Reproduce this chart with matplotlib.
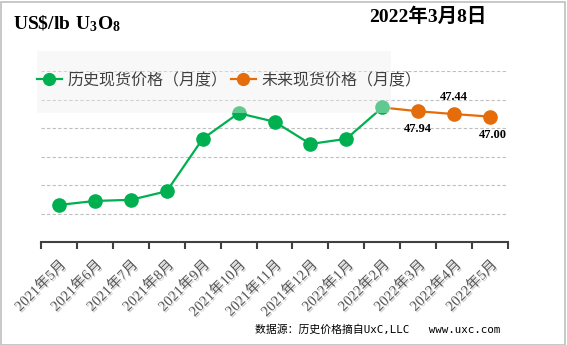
import matplotlib.pyplot as plt
import matplotlib.patheffects as pe
import matplotlib.transforms as mtransforms
from matplotlib.lines import Line2D
from matplotlib.patches import Rectangle

plt.rcParams['mathtext.fontset'] = 'custom'
plt.rcParams['mathtext.bf'] = 'Liberation Serif:bold'
plt.rcParams['mathtext.rm'] = 'Liberation Serif'

months = ['2021年5月', '2021年6月', '2021年7月', '2021年8月', '2021年9月',
          '2021年10月', '2021年11月', '2021年12月', '2022年1月', '2022年2月',
          '2022年3月', '2022年4月', '2022年5月']
hist = [31.5, 32.2, 32.4, 33.9, 43.1, 47.6, 46.1, 42.2, 43.1, 48.6]
future = [48.6, 47.94, 47.44, 47.00]
labels = ['47.94', '47.44', '47.00']

green = '#00B050'
orange = '#E46C0A'
serif_cjk = ['Liberation Serif', 'Noto Sans CJK SC']

W, H = 567, 345
fig = plt.figure(figsize=(W / 100, H / 100), dpi=100)
ax = fig.add_axes([41 / W, 1 - 242 / H, (508 - 41) / W, (242 - 71) / H])

xh = list(range(len(hist)))
xf = list(range(len(hist) - 1, len(months)))
ax.plot(xh, hist, color=green, lw=1.6, marker='o', ms=9.5, mec=green, zorder=3)
ax.plot(xf, future, color=orange, lw=1.6, zorder=2)
ax.plot(xf[1:], future[1:], ls='none', marker='o', ms=9.5, color=orange, zorder=3)

offs = [(0, -12.5), (0, 12.5), (2, -13)]
for x, y, t, o in zip(xf[1:], future[1:], labels, offs):
    ax.annotate(t, (x, y), xytext=o, textcoords='offset points', ha='center',
                va='center', fontsize=9, fontweight='bold', family='Liberation Serif')

ax.set_xlim(-0.5, len(months) - 0.5)
ax.set_ylim(25, 55)
ax.set_yticks([30, 35, 40, 45, 50, 55])
ax.yaxis.grid(True, ls=(0, (3, 2)), color='#bfbfbf', lw=0.8)
ax.set_axisbelow(True)
ax.tick_params(axis='y', length=0, labelleft=False)
for s in ['top', 'right', 'left']:
    ax.spines[s].set_visible(False)
ax.spines['bottom'].set_color('#404040')
ax.spines['bottom'].set_linewidth(1.5)

ax.set_xticks(range(len(months)))
ax.set_xticklabels(months, rotation=45, ha='right', va='center',
                   rotation_mode='anchor', fontsize=10.5, color='#595959',
                   family=serif_cjk)
ax.tick_params(axis='x', which='major', length=0, pad=15)
ax.set_xticks([i - 0.5 for i in range(len(months) + 1)], minor=True)
ax.tick_params(axis='x', which='minor', length=5, width=1.5, color='#404040',
               direction='out')
shift = mtransforms.ScaledTranslation(5 / 100, 0, fig.dpi_scale_trans)
for t in ax.get_xticklabels():
    t.set_transform(t.get_transform() + shift)
    t.set_path_effects([pe.SimplePatchShadow(offset=(1, -1), shadow_rgbFace='#999999',
                                              alpha=0.5), pe.Normal()])

# translucent legend panel over the plot
fig.patches.append(Rectangle((37 / W, 1 - 113 / H), (391 - 37) / W, (113 - 51) / H,
                             transform=fig.transFigure, facecolor='#efefef',
                             alpha=0.4, edgecolor='none', zorder=5))
handles = [Line2D([], [], color=green, lw=1.6, marker='o', ms=8.5),
           Line2D([], [], color=orange, lw=1.6, marker='o', ms=8.5)]
fig.legend(handles, ['历史现货价格（月度）', '未来现货价格（月度）'],
           loc='center left', bbox_to_anchor=(37 / W, 1 - 81 / H), ncol=2,
           frameon=False, borderpad=0, borderaxespad=0, handlelength=1.55,
           handletextpad=0.38, columnspacing=0.2,
           prop={'family': serif_cjk, 'size': 11.5}, labelcolor='#404040')

fig.text(13 / W, 1 - 24 / H, r'$\mathbf{US\$/lb\ U_3O_8}$', fontsize=14,
         ha='left', va='center')
fig.text(487 / W, 1 - 17 / H, '2022年3月8日', fontsize=14, fontweight='bold',
         ha='right', va='center', family=serif_cjk)
fig.text(500 / W, 1 - 330 / H, '数据源：历史价格摘自UxC,LLC   www.uxc.com',
         fontsize=7.8, ha='right', va='center',
         family=['DejaVu Sans Mono', 'Noto Sans CJK SC'])

fig.patches.append(Rectangle((0.5 / W, 0.5 / H), (W - 3) / W, (H - 2) / H,
                             transform=fig.transFigure, fill=False,
                             edgecolor='#bfbfbf', lw=1.2))
fig.savefig('out.png', dpi=100)
